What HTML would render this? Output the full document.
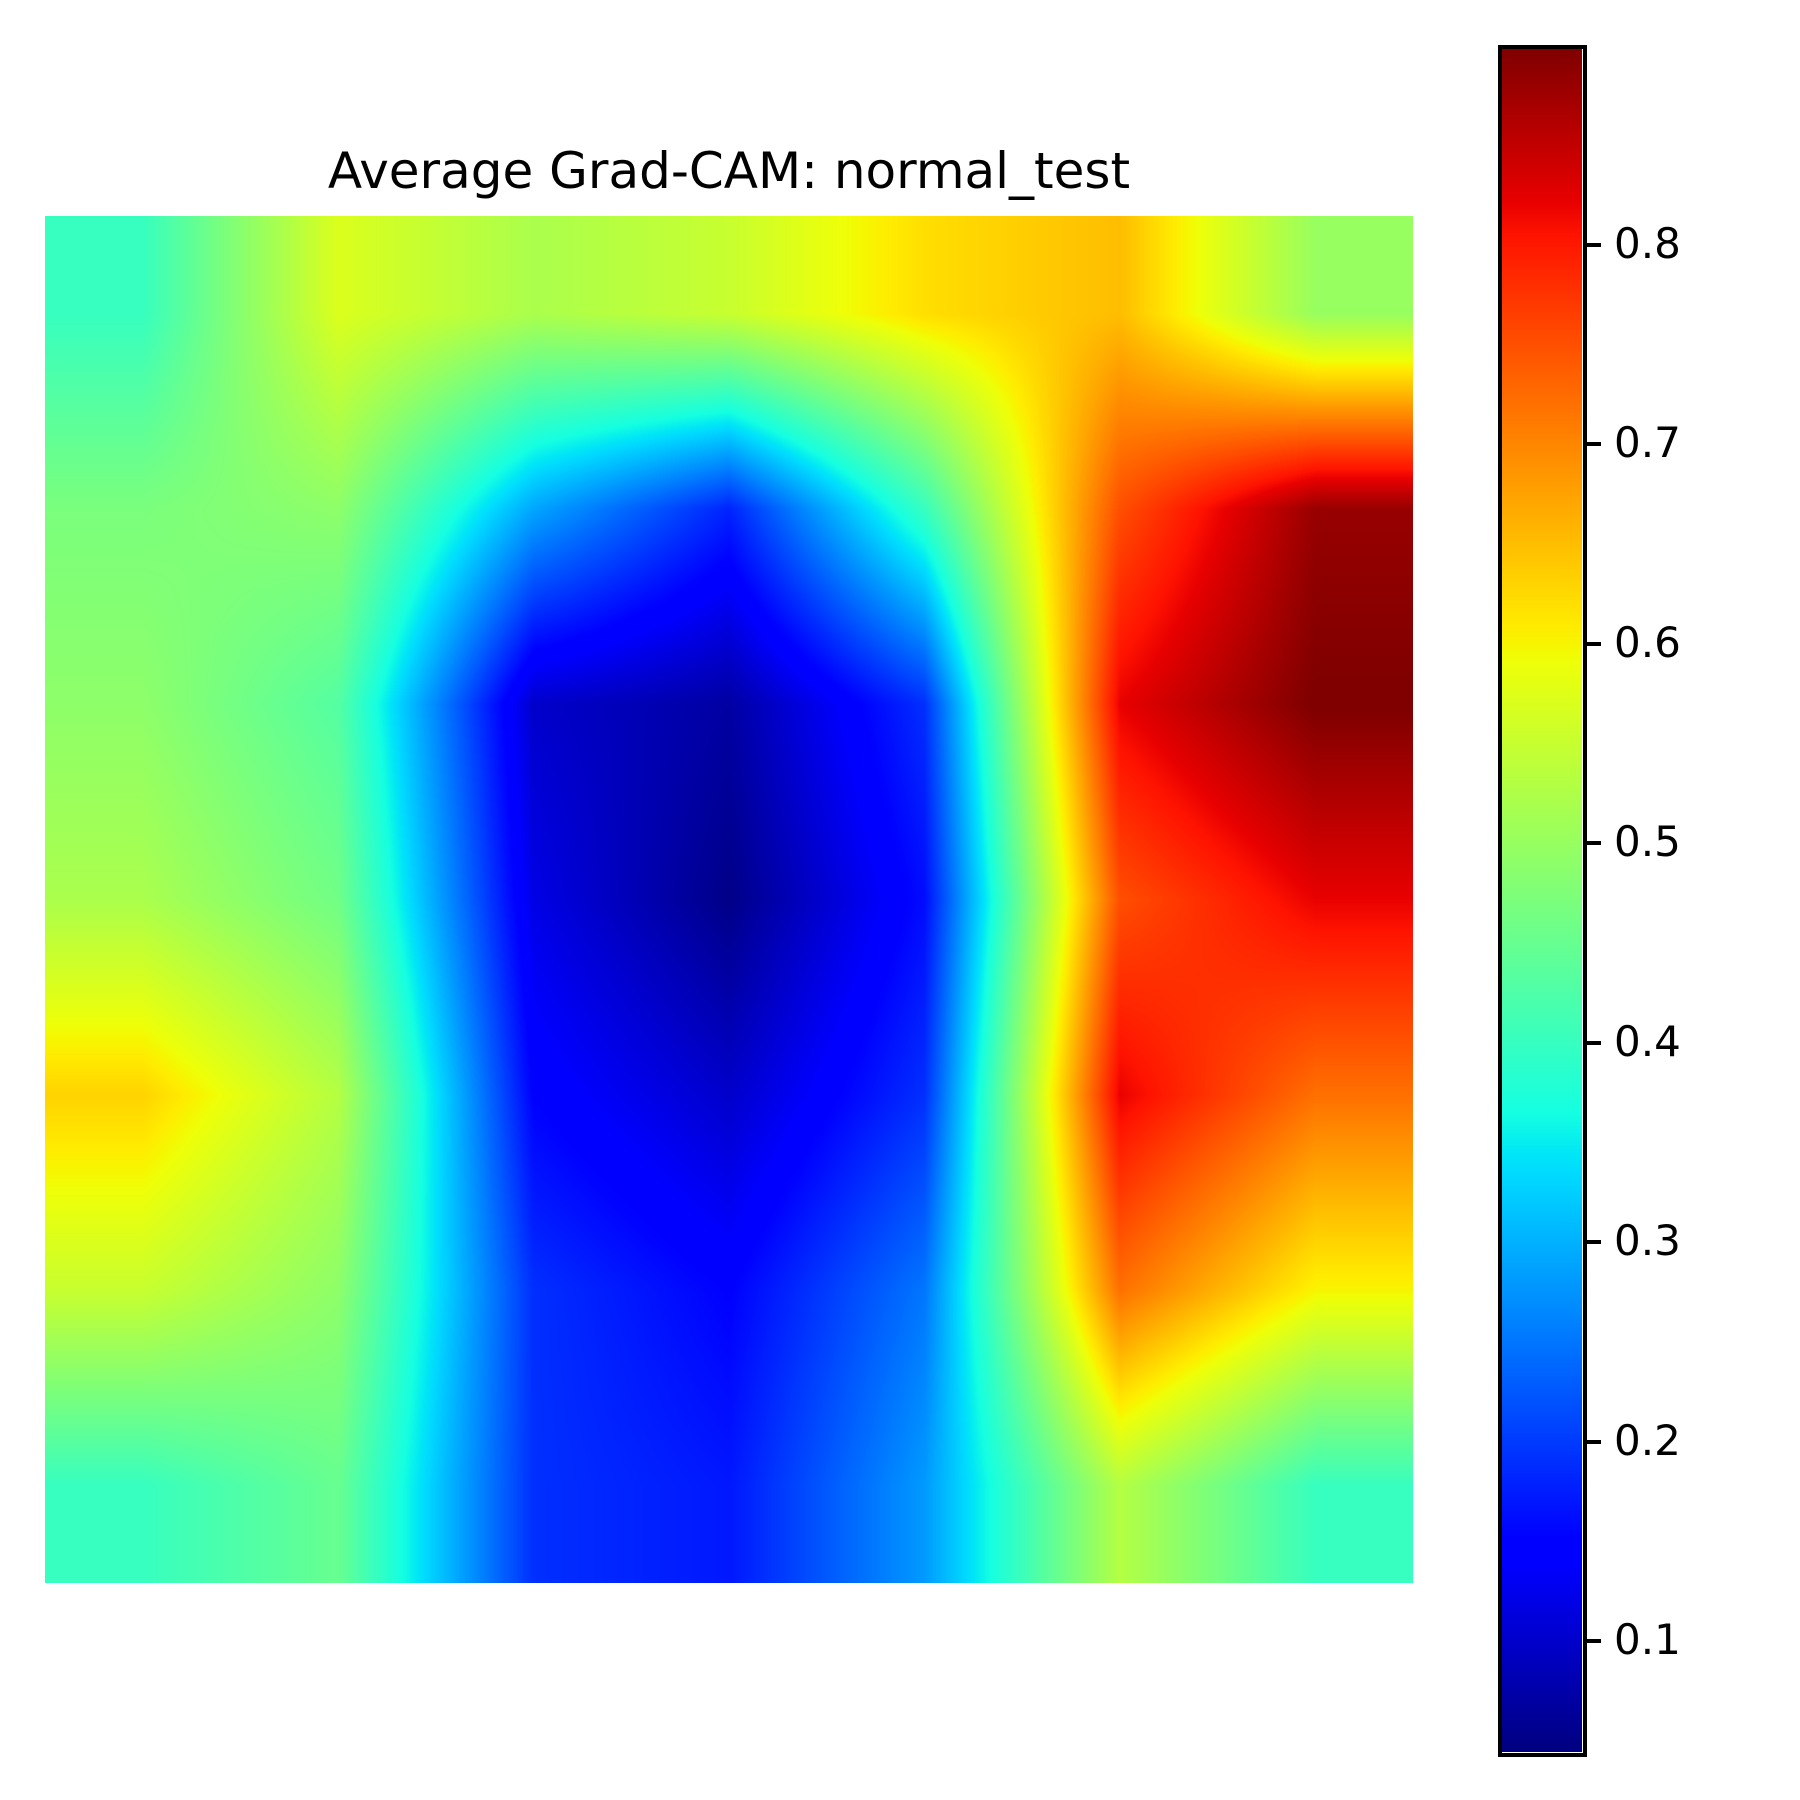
<!DOCTYPE html>
<html><head><meta charset="utf-8"><style>
html,body{margin:0;padding:0;background:#fff;width:1800px;height:1800px;overflow:hidden;font-family:"DejaVu Sans","Liberation Sans",sans-serif;}
#wrap{position:relative;width:1800px;height:1800px;}
.abs{position:absolute;}
#title{left:0;width:1458px;text-align:center;top:141px;font-size:50px;line-height:60px;color:#000;}
#heat{left:45px;top:216px;}
#cbar{left:1501px;top:48px;}
#cbframe{left:1498px;top:45px;width:81px;height:1704px;border:4px solid #000;box-sizing:content-box;}
.tick{position:absolute;height:4px;width:15px;background:#000;left:1586px;}
.tl{position:absolute;left:1614px;font-size:42px;line-height:42px;color:#000;}
</style></head><body>
<div id="wrap">
<div id="title" class="abs">Average Grad-CAM: normal_test</div>
<canvas id="heat" class="abs" width="1368" height="1367"></canvas>
<canvas id="cbar" class="abs" width="81" height="1704"></canvas>
<div id="cbframe" class="abs"></div>
<div id="ticks"></div>
</div>
<script>
const row0=[0.40,0.57,0.52,0.55,0.62,0.65,0.50];
const row1=[0.47,0.49,0.29,0.18,0.40,0.75,0.88];
const row2=[0.49,0.43,0.10,0.07,0.19,0.82,0.90];
const row3=[0.52,0.46,0.12,0.05,0.16,0.75,0.82];
const row4=[0.63,0.53,0.15,0.10,0.19,0.82,0.72];
const row5=[0.55,0.49,0.19,0.15,0.25,0.72,0.60];
const row6=[0.40,0.45,0.19,0.17,0.28,0.53,0.40];
const tickValues=[0.1,0.2,0.3,0.4,0.5,0.6,0.7,0.8];
const vmin=0.044, vmax=0.898;
const grid=[row0,row1,row2,row3,row4,row5,row6];

const segR=[[0,0],[0.35,0],[0.66,1],[0.89,1],[1,0.5]];
const segG=[[0,0],[0.125,0],[0.375,1],[0.64,1],[0.91,0],[1,0]];
const segB=[[0,0.5],[0.11,1],[0.34,1],[0.65,0],[1,0]];
function seg(s,t){
  for(let i=1;i<s.length;i++){
    if(t<=s[i][0]){const a=s[i-1],b=s[i];return a[1]+(b[1]-a[1])*(t-a[0])/(b[0]-a[0]);}
  }
  return s[s.length-1][1];
}
function jet(t){
  t=Math.max(0,Math.min(1,t));
  return [seg(segR,t)*255,seg(segG,t)*255,seg(segB,t)*255];
}
const norm=v=>(v-vmin)/(vmax-vmin);

(function(){
  const c=document.getElementById('heat');
  const ctx=c.getContext('2d');
  const W=c.width,H=c.height,n=grid.length,m=grid[0].length;
  const img=ctx.createImageData(W,H);
  for(let y=0;y<H;y++){
    let gy=(y+0.5)/H*n-0.5; gy=Math.max(0,Math.min(n-1,gy));
    const y0=Math.floor(gy),y1=Math.min(n-1,y0+1),fy=gy-y0;
    for(let x=0;x<W;x++){
      let gx=(x+0.5)/W*m-0.5; gx=Math.max(0,Math.min(m-1,gx));
      const x0=Math.floor(gx),x1=Math.min(m-1,x0+1),fx=gx-x0;
      const v=(grid[y0][x0]*(1-fx)+grid[y0][x1]*fx)*(1-fy)+(grid[y1][x0]*(1-fx)+grid[y1][x1]*fx)*fy;
      const col=jet(norm(v));
      const i=(y*W+x)*4;
      img.data[i]=col[0];img.data[i+1]=col[1];img.data[i+2]=col[2];img.data[i+3]=255;
    }
  }
  ctx.putImageData(img,0,0);
})();

(function(){
  const c=document.getElementById('cbar');
  const ctx=c.getContext('2d');
  const H=c.height;
  for(let y=0;y<H;y++){
    const col=jet(1-(y+0.5)/H);
    ctx.fillStyle='rgb('+col.map(Math.round).join(',')+')';
    ctx.fillRect(0,y,c.width,1);
  }
  const top=49,bot=1753;
  const yOf=v=>bot-(v-vmin)/(vmax-vmin)*(bot-top);
  const holder=document.getElementById('ticks');
  tickValues.forEach(v=>{
    const y=yOf(v);
    const t=document.createElement('div');
    t.className='tick';
    t.style.top=(y-2)+'px';
    
    
    holder.appendChild(t);
    const l=document.createElement('div');
    l.className='tl';
    l.style.top=(y-22)+'px';
    l.textContent=v.toFixed(1);
    
    
    holder.appendChild(l);
  });
})();
</script>
</body></html>
